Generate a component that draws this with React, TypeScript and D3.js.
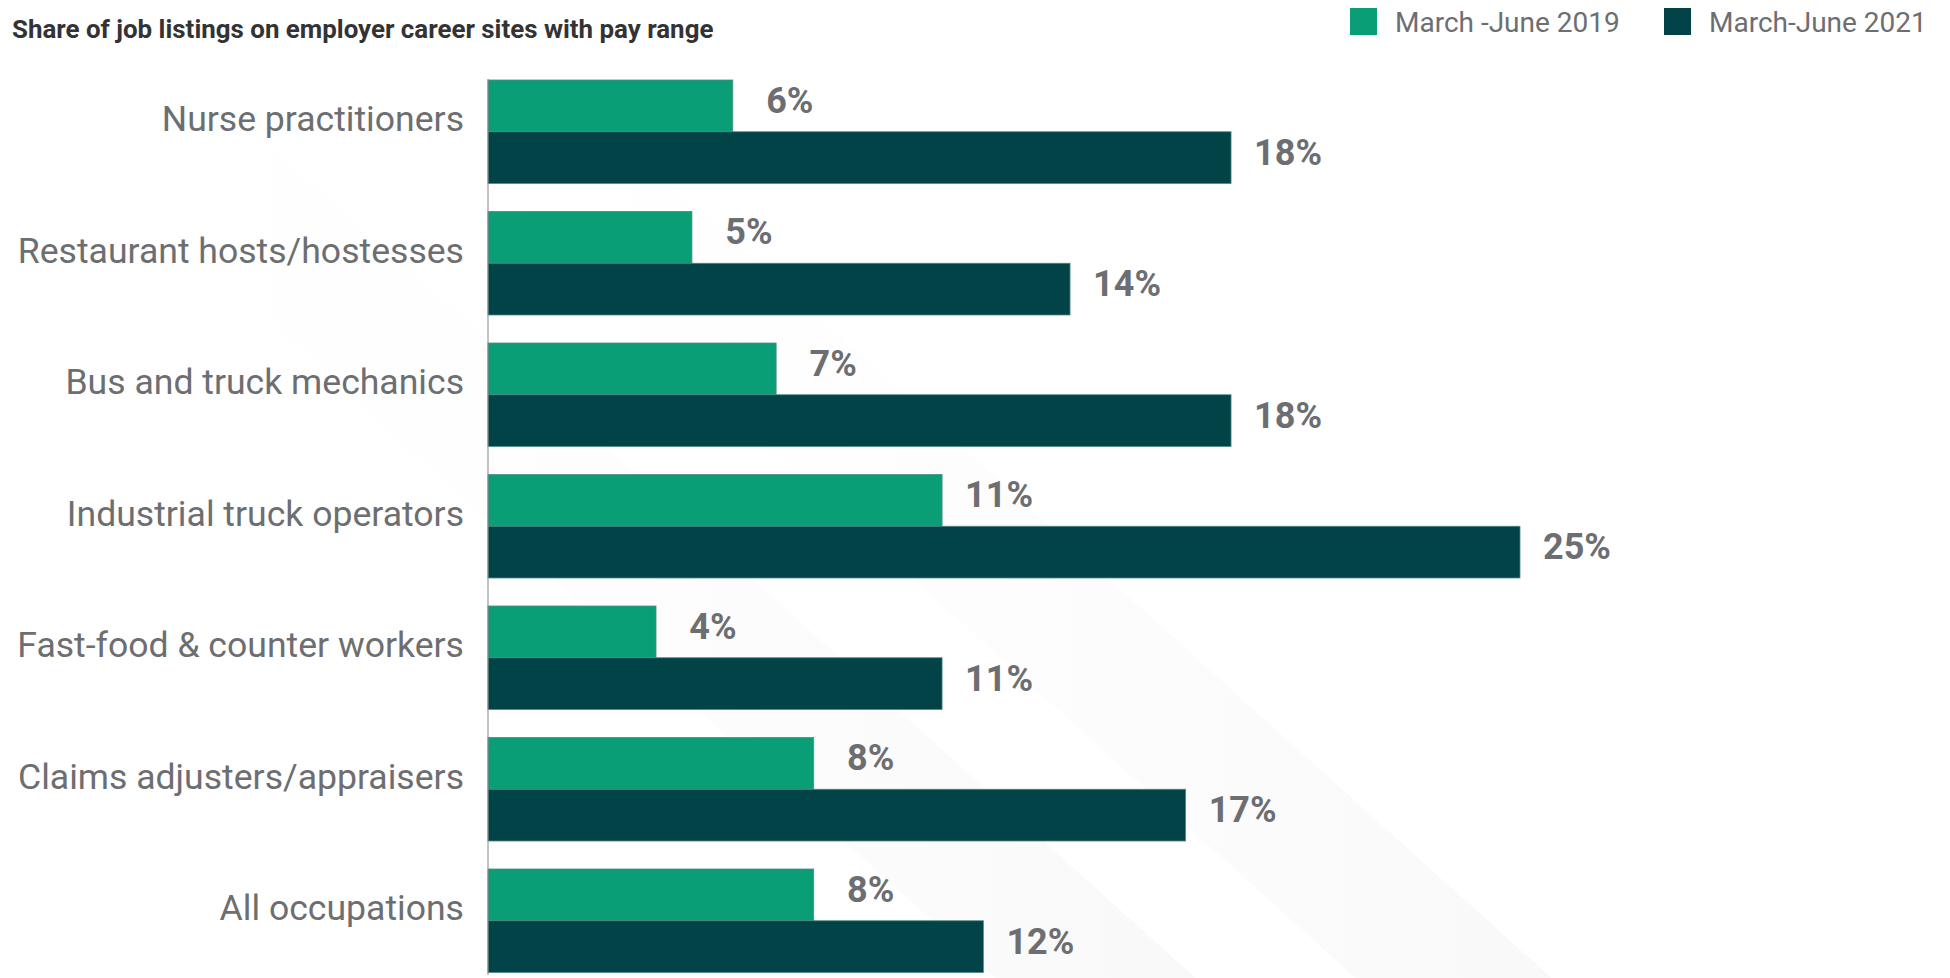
import React from "react";
import * as d3 from "d3";

const categories = [
  "Nurse practitioners",
  "Restaurant hosts/hostesses",
  "Bus and truck mechanics",
  "Industrial truck operators",
  "Fast-food & counter workers",
  "Claims adjusters/appraisers",
  "All occupations",
];
const seriesNames = ["March -June 2019", "March-June 2021"];
const values2019 = [5.93, 4.94, 6.98, 11.0, 4.07, 7.89, 7.89];
const values2021 = [18.0, 14.1, 18.0, 25.0, 11.0, 16.9, 12.0];
const labels2019 = ["6%", "5%", "7%", "11%", "4%", "8%", "8%"];
const labels2021 = ["18%", "14%", "18%", "25%", "11%", "17%", "12%"];
const colors = ["#0a9e77", "#024347"];

const W = 1950;
const H = 978;
const FONT = "Roboto, 'Noto Sans', sans-serif";
const GRAY = "#6d6e71";

export default function App() {
  const x = d3.scaleLinear().domain([0, 25]).range([488, 1520]);
  const y = d3
    .scaleBand<string>()
    .domain(categories)
    .range([80, 972.5])
    .paddingInner(0.213)
    .paddingOuter(0);
  const sub = d3
    .scaleBand<string>()
    .domain(seriesNames)
    .range([0, y.bandwidth()])
    .padding(0);
  const series = [
    { name: seriesNames[0], values: values2019, labels: labels2019, color: colors[0] },
    { name: seriesNames[1], values: values2021, labels: labels2021, color: colors[1] },
  ];
  const k = 1.11; // horizontal shift per unit of vertical travel
  const stripes = [
    { x0: -90, w: 200 },
    { x0: 270, w: 196 },
    { x0: 1624, w: 200 },
  ];
  return (
    <svg
      width={W}
      height={H}
      style={{ position: "absolute", left: 0, top: 0, background: "#fff" }}
    >
      <defs>
        <linearGradient id="stripe" x1="0" y1="0" x2="1" y2="0">
          <stop offset="0" stopColor="#ffffff" stopOpacity="0" />
          <stop offset="1" stopColor="#efeff0" stopOpacity="1" />
        </linearGradient>
      </defs>
      <rect x={0} y={0} width={W} height={H} fill="#fff" />
      {stripes.map((s, i) => (
        <polygon
          key={i}
          points={`${s.x0},0 ${s.x0 + s.w},0 ${s.x0 + s.w + H * k},${H} ${s.x0 + H * k},${H}`}
          fill="url(#stripe)"
          opacity={0.4}
        />
      ))}
      <text x={12} y={38} fontFamily={FONT} fontWeight={700} fontSize={25.9} fill="#333">
        Share of job listings on employer career sites with pay range
      </text>
      {/* legend */}
      {series.map((s, i) => {
        const lx = [1350, 1664][i];
        return (
          <g key={s.name}>
            <rect x={lx} y={8} width={27} height={27} fill={s.color} />
            <text x={lx + 45} y={32} fontFamily={FONT} fontSize={28} fill={GRAY}>
              {s.name}
            </text>
          </g>
        );
      })}
      {/* bars */}
      {categories.map((c, ci) => (
        <g key={c}>
          {series.map((s) => (
            <rect
              key={s.name}
              x={x(0)}
              y={(y(c) as number) + (sub(s.name) as number)}
              width={x(s.values[ci]) - x(0)}
              height={sub.bandwidth()}
              fill={s.color}
              stroke="#4e8a86"
              strokeWidth={0.8}
            />
          ))}
          <text
            x={464}
            y={(y(c) as number) + y.bandwidth() / 2 - 0.5}
            textAnchor="end"
            fontFamily={FONT}
            fontWeight={400}
            fontSize={35.6}
            fill={GRAY}
          >
            {c}
          </text>
          {series.map((s) => (
            <text
              key={s.name + "l"}
              x={x(s.values[ci]) + 57}
              y={(y(c) as number) + (sub(s.name) as number) + sub.bandwidth() / 2 - 5}
              textAnchor="middle"
              dominantBaseline="central"
              fontFamily={FONT}
              fontWeight={700}
              fontSize={36}
              fill={GRAY}
            >
              {s.labels[ci]}
            </text>
          ))}
        </g>
      ))}
      <line x1={x(0)} x2={x(0)} y1={79} y2={975} stroke="#888" strokeWidth={1} />
    </svg>
  );
}
